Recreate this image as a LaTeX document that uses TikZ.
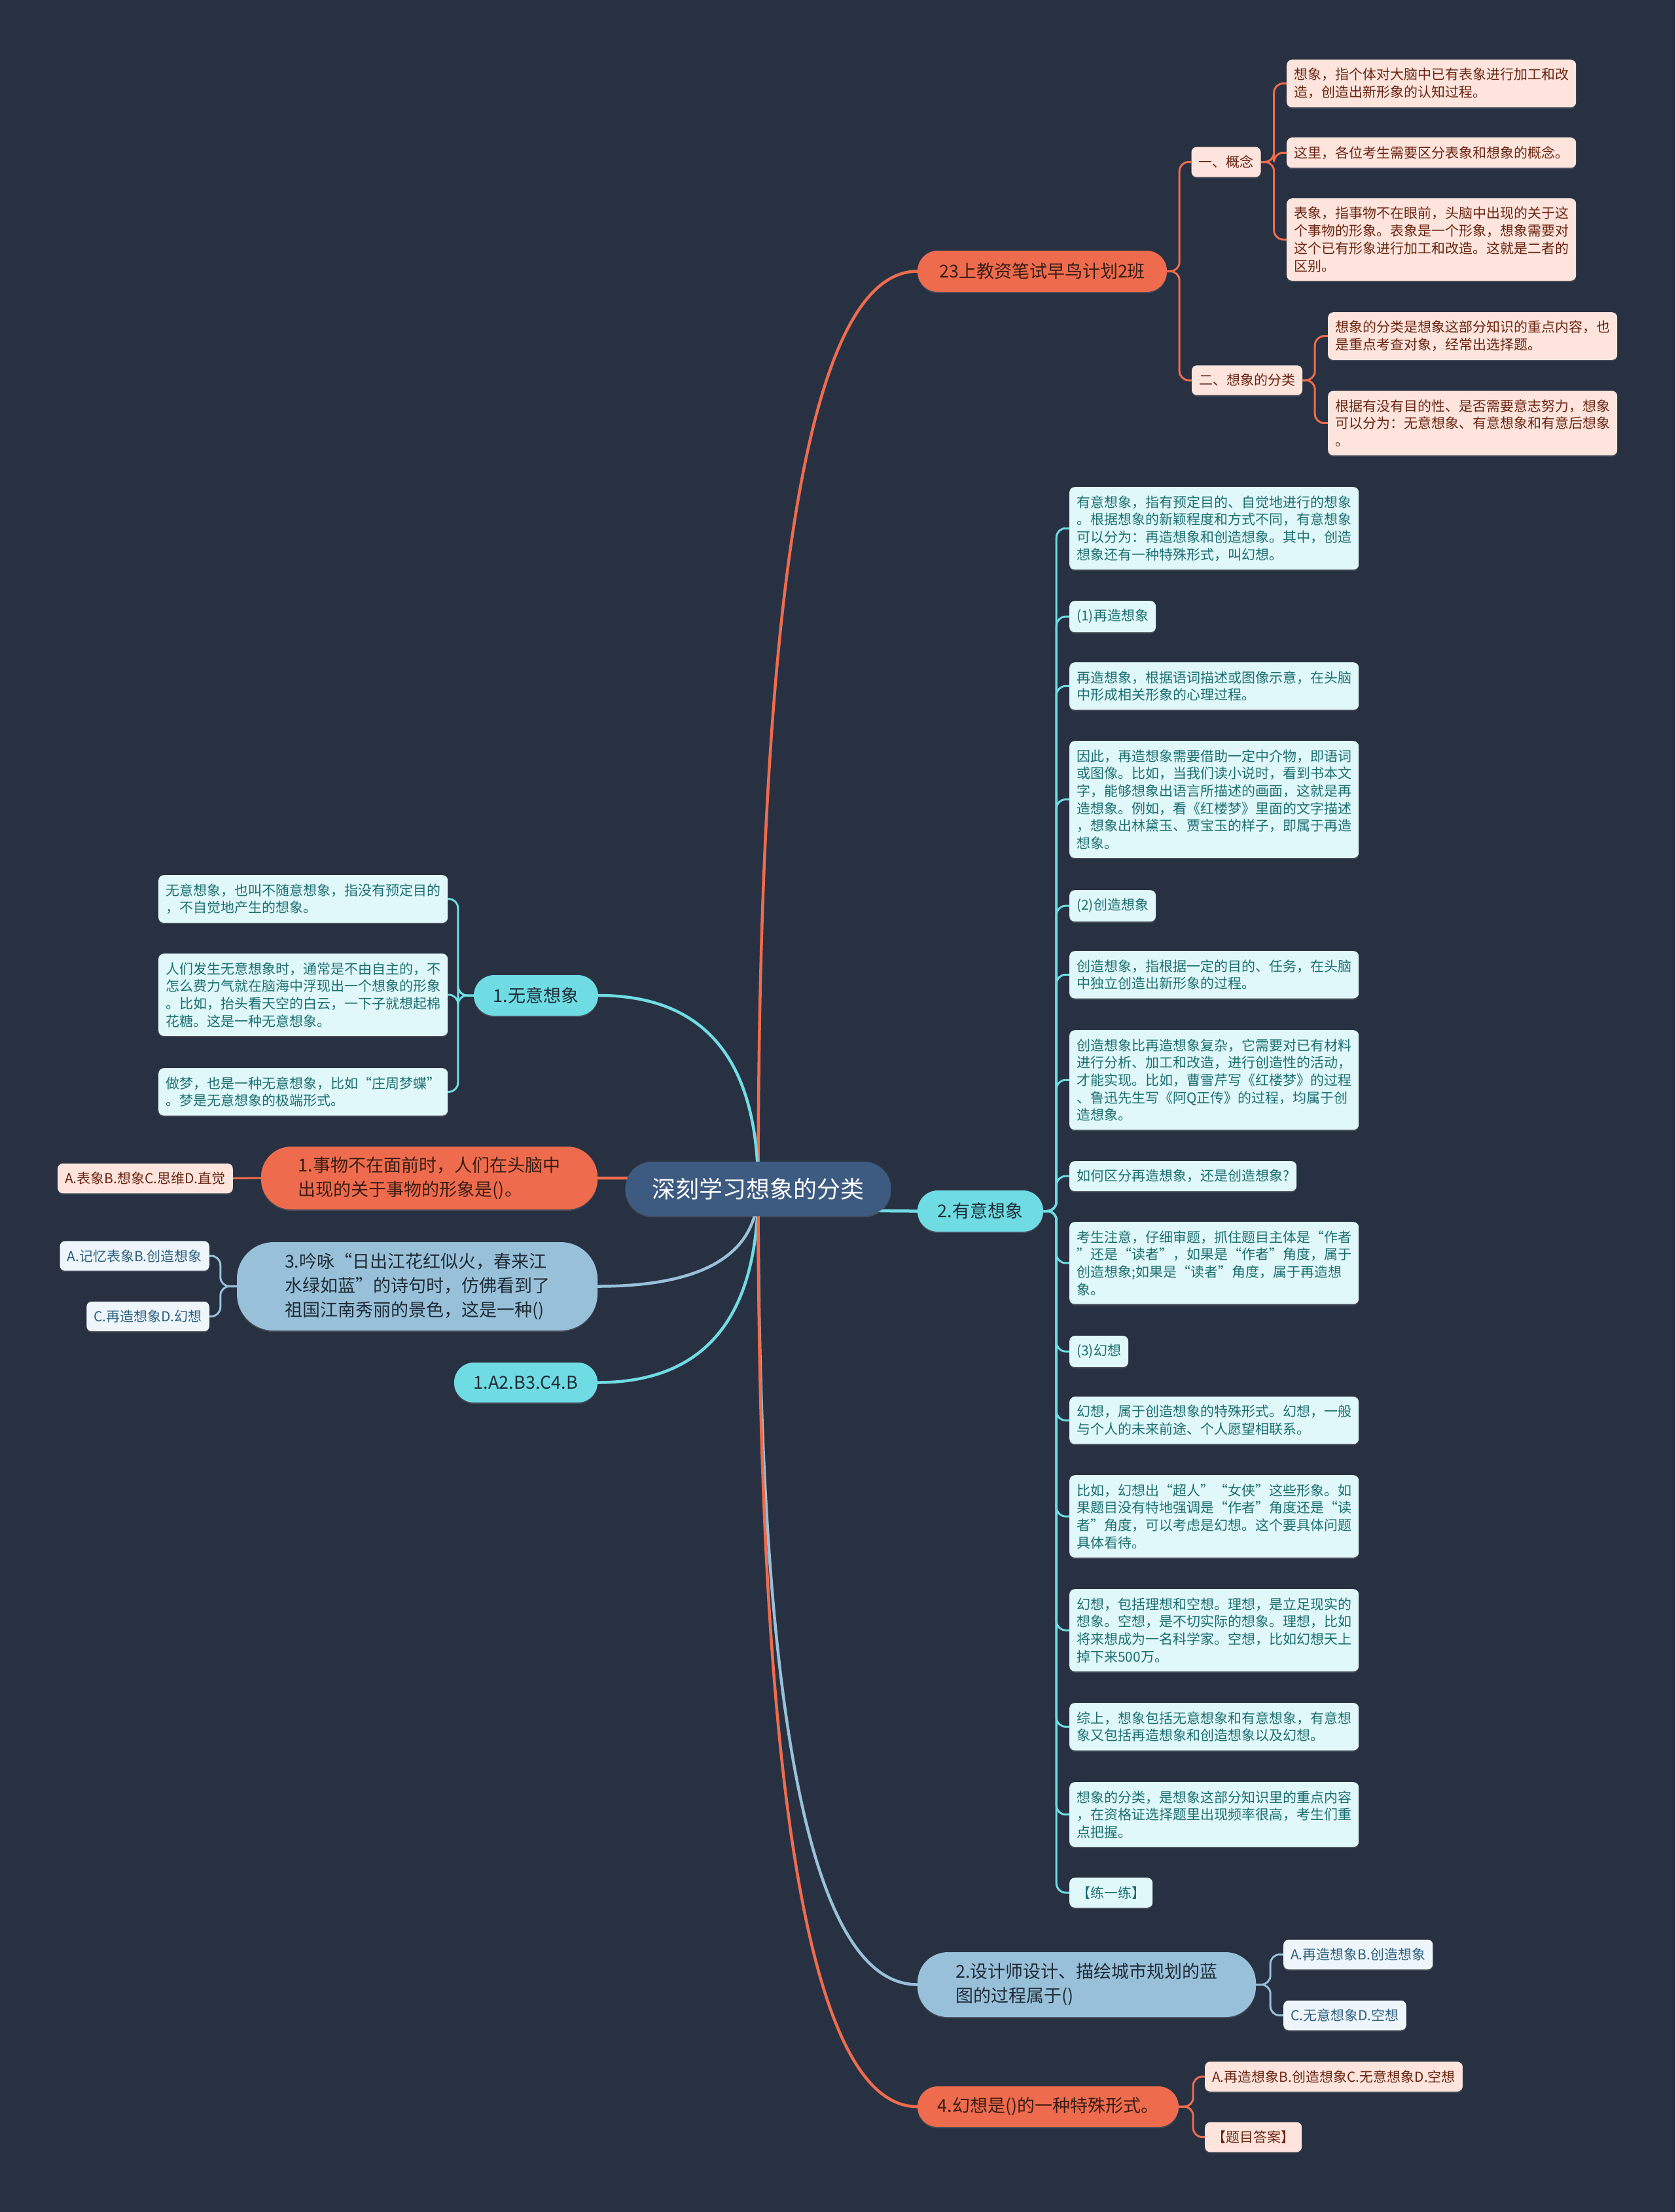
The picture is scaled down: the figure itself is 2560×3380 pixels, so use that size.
\documentclass[tikz,border=0pt]{standalone}
\usepackage{fontspec}
\setmainfont{Noto Sans CJK SC}
\usetikzlibrary{calc,shadows}
\definecolor{bgc}{HTML}{283142}
\definecolor{rootc}{HTML}{3D5A80}
\definecolor{orgc}{HTML}{EE6C4D}
\definecolor{cyac}{HTML}{6FDCE3}
\definecolor{bluc}{HTML}{98C1D9}
\definecolor{orgl}{HTML}{FDE5DD}
\definecolor{orgt}{HTML}{6B2412}
\definecolor{cyal}{HTML}{E0F8F9}
\definecolor{cyat}{HTML}{1C6E72}
\definecolor{blul}{HTML}{EEF6FB}
\definecolor{blut}{HTML}{2D5F80}
\definecolor{orgd}{HTML}{3A1C14}
\definecolor{darkt}{HTML}{1F2B36}
\pgfdeclarelayer{back}
\pgfdeclarelayer{bg}
\pgfsetlayers{back,bg,main}
\newcommand\rootcurve[3]{%
  \draw[rootline,#1] (root.center) .. controls ($(root.center)!0.667!(root.center |- #2.#3)$) and ($(#2.#3)!0.667!(root.center |- #2.#3)$) .. (#2.#3);}
\begin{document}
\begin{tikzpicture}[x=1pt,y=-1pt,
  shad/.style={drop shadow={shadow xshift=0pt,shadow yshift=-2pt,opacity=.35}},
  leaf/.style={shad,rounded corners=8pt,inner xsep=11pt,inner ysep=13pt,font=\fontsize{21}{26.7}\selectfont,align=left},
  wide/.style={text width=420pt},
  ol/.style={leaf,fill=orgl,text=orgt},
  cl/.style={leaf,fill=cyal,text=cyat},
  bl/.style={leaf,fill=blul,text=blut},
  pill/.style={shad,inner sep=0pt,align=left,font=\fontsize{27}{37}\selectfont},
  pillO/.style={pill,fill=orgc,text=orgd},
  pillC/.style={pill,fill=cyac,text=darkt},
  pillB/.style={pill,fill=bluc,text=darkt},
  rootbox/.style={shad,inner sep=0pt,fill=rootc,text=white,font=\fontsize{36}{44}\selectfont,minimum width=406pt,minimum height=83pt,rounded corners=41pt},
  con/.style={line width=3pt,rounded corners=14pt},
  rootline/.style={line width=4.5pt}]
\begin{pgfonlayer}{back}
\fill[bgc] (0,0) rectangle (2560,3380);
\end{pgfonlayer}
\useasboundingbox (0,0) rectangle (2560,3380);

% root
\node[rootbox] (root) at (1158.5,1816.5) {深刻学习想象的分类};

% main branches
\node[pillO,minimum width=381pt,minimum height=63pt,rounded corners=31pt] (b1) at (1592.5,414.5) {23上教资笔试早鸟计划2班};
\node[pillC,minimum width=190pt,minimum height=62pt,rounded corners=31pt] (p1) at (819,1521) {1.无意想象};
\node[pillC,minimum width=192pt,minimum height=63pt,rounded corners=31pt] (p2) at (1498,1850.5) {2.有意想象};
\node[pillO,minimum width=514pt,minimum height=96pt,rounded corners=46pt] (q1) at (656,1800) {1.事物不在面前时，人们在头脑中\\出现的关于事物的形象是()。};
\node[pillB,minimum width=551pt,minimum height=135pt,rounded corners=56pt] (q3) at (637.5,1965.5) {3.吟咏“日出江花红似火，春来江\\水绿如蓝”的诗句时，仿佛看到了\\祖国江南秀丽的景色，这是一种()};
\node[pillC,minimum width=219pt,minimum height=61pt,rounded corners=30pt] (ans) at (803.5,2112.5) {1.A2.B3.C4.B};
\node[pillB,minimum width=517pt,minimum height=99pt,rounded corners=46pt] (q2) at (1660.5,3032.5) {2.设计师设计、描绘城市规划的蓝\\图的过程属于()};
\node[pillO,minimum width=399pt,minimum height=62pt,rounded corners=31pt] (q4) at (1601.5,3219) {4.幻想是()的一种特殊形式。};

% top-right orange
\node[ol] (c1) at (1873.5,247.5) {一、概念};
\node[ol] (c2) at (1905.5,581) {二、想象的分类};
\node[ol,wide,anchor=north west] (o1) at (1966,91) {想象，指个体对大脑中已有表象进行加工和改\\造，创造出新形象的认知过程。};
\node[ol,wide,anchor=north west] (o2) at (1966,210) {这里，各位考生需要区分表象和想象的概念。};
\node[ol,wide,anchor=north west] (o3) at (1966,303) {表象，指事物不在眼前，头脑中出现的关于这\\个事物的形象。表象是一个形象，想象需要对\\这个已有形象进行加工和改造。这就是二者的\\区别。};
\node[ol,wide,anchor=north west] (o4) at (2029,477) {想象的分类是想象这部分知识的重点内容，也\\是重点考查对象，经常出选择题。};
\node[ol,wide,anchor=north west] (o5) at (2029,597) {根据有没有目的性、是否需要意志努力，想象\\可以分为：无意想象、有意想象和有意后想象\\。};

% left cyan
\node[cl,wide,anchor=north west] (w1) at (242,1337) {无意想象，也叫不随意想象，指没有预定目的\\，不自觉地产生的想象。};
\node[cl,wide,anchor=north west] (w2) at (242,1457) {人们发生无意想象时，通常是不由自主的，不\\怎么费力气就在脑海中浮现出一个想象的形象\\。比如，抬头看天空的白云，一下子就想起棉\\花糖。这是一种无意想象。};
\node[cl,wide,anchor=north west] (w3) at (242,1632) {做梦，也是一种无意想象，比如“庄周梦蝶”\\。梦是无意想象的极端形式。};

% right cyan column
\node[cl,wide,anchor=north west] (y1) at (1634,744) {有意想象，指有预定目的、自觉地进行的想象\\。根据想象的新颖程度和方式不同，有意想象\\可以分为：再造想象和创造想象。其中，创造\\想象还有一种特殊形式，叫幻想。};
\node[cl,anchor=north west] (y2) at (1634,918) {(1)再造想象};
\node[cl,wide,anchor=north west] (y3) at (1634,1012) {再造想象，根据语词描述或图像示意，在头脑\\中形成相关形象的心理过程。};
\node[cl,wide,anchor=north west] (y4) at (1634,1132) {因此，再造想象需要借助一定中介物，即语词\\或图像。比如，当我们读小说时，看到书本文\\字，能够想象出语言所描述的画面，这就是再\\造想象。例如，看《红楼梦》里面的文字描述\\，想象出林黛玉、贾宝玉的样子，即属于再造\\想象。};
\node[cl,anchor=north west] (y5) at (1634,1360) {(2)创造想象};
\node[cl,wide,anchor=north west] (y6) at (1634,1453) {创造想象，指根据一定的目的、任务，在头脑\\中独立创造出新形象的过程。};
\node[cl,wide,anchor=north west] (y7) at (1634,1574) {创造想象比再造想象复杂，它需要对已有材料\\进行分析、加工和改造，进行创造性的活动，\\才能实现。比如，曹雪芹写《红楼梦》的过程\\、鲁迅先生写《阿Q正传》的过程，均属于创\\造想象。};
\node[cl,anchor=north west] (y8) at (1634,1774) {如何区分再造想象，还是创造想象?};
\node[cl,wide,anchor=north west] (y9) at (1634,1867) {考生注意，仔细审题，抓住题目主体是“作者\\”还是“读者”，如果是“作者”角度，属于\\创造想象;如果是“读者”角度，属于再造想\\象。};
\node[cl,anchor=north west] (y10) at (1634,2041) {(3)幻想};
\node[cl,wide,anchor=north west] (y11) at (1634,2134) {幻想，属于创造想象的特殊形式。幻想，一般\\与个人的未来前途、个人愿望相联系。};
\node[cl,wide,anchor=north west] (y12) at (1634,2254) {比如，幻想出“超人”“女侠”这些形象。如\\果题目没有特地强调是“作者”角度还是“读\\者”角度，可以考虑是幻想。这个要具体问题\\具体看待。};
\node[cl,wide,anchor=north west] (y13) at (1634,2428) {幻想，包括理想和空想。理想，是立足现实的\\想象。空想，是不切实际的想象。理想，比如\\将来想成为一名科学家。空想，比如幻想天上\\掉下来500万。};
\node[cl,wide,anchor=north west] (y14) at (1634,2602) {综上，想象包括无意想象和有意想象，有意想\\象又包括再造想象和创造想象以及幻想。};
\node[cl,wide,anchor=north west] (y15) at (1634,2723) {想象的分类，是想象这部分知识里的重点内容\\，在资格证选择题里出现频率很高，考生们重\\点把握。};
\node[cl,anchor=north west] (y16) at (1634,2869) {【练一练】};

% question options
\node[ol,anchor=east] (q1c) at (356,1800.5) {A.表象B.想象C.思维D.直觉};
\node[bl,anchor=east] (q3a) at (320,1919) {A.记忆表象B.创造想象};
\node[bl,anchor=east] (q3c) at (320,2011.5) {C.再造想象D.幻想};
\node[bl,anchor=west] (q2a) at (1961,2986.5) {A.再造想象B.创造想象};
\node[bl,anchor=west] (q2c) at (1961,3079.5) {C.无意想象D.空想};
\node[ol,anchor=west] (q4a) at (1841,3173) {A.再造想象B.创造想象C.无意想象D.空想};
\node[ol,anchor=west] (q4b) at (1841,3265.5) {【题目答案】};

\begin{pgfonlayer}{bg}
\rootcurve{orgc}{b1}{west}
\rootcurve{cyac}{p1}{east}
\rootcurve{orgc}{q1}{east}
\rootcurve{bluc}{q3}{east}
\rootcurve{cyac}{ans}{east}
\rootcurve{cyac}{p2}{west}
\rootcurve{bluc}{q2}{west}
\rootcurve{orgc}{q4}{west}
\foreach \t in {c1,c2} \draw[con,orgc] (b1.east) -- ++(19,0) |- (\t.west);
\foreach \t in {o1,o2,o3} \draw[con,orgc] (c1.east) -- ++(20,0) |- (\t.west);
\foreach \t in {o4,o5} \draw[con,orgc] (c2.east) -- ++(19,0) |- (\t.west);
\foreach \i in {1,...,16} \draw[con,cyac] (p2.east) -- ++(20,0) |- (y\i.west);
\foreach \i in {1,2,3} \draw[con,cyac] (p1.west) -- ++(-24,0) |- (w\i.east);
\draw[con,orgc] (q1.west) -- (q1c.east);
\foreach \t in {q3a,q3c} \draw[con,bluc] (q3.west) -- ++(-25,0) |- (\t.east);
\foreach \t in {q2a,q2c} \draw[con,bluc] (q2.east) -- ++(22,0) |- (\t.west);
\foreach \t in {q4a,q4b} \draw[con,orgc] (q4.east) -- ++(22,0) |- (\t.west);
\end{pgfonlayer}
\end{tikzpicture}
\end{document}
